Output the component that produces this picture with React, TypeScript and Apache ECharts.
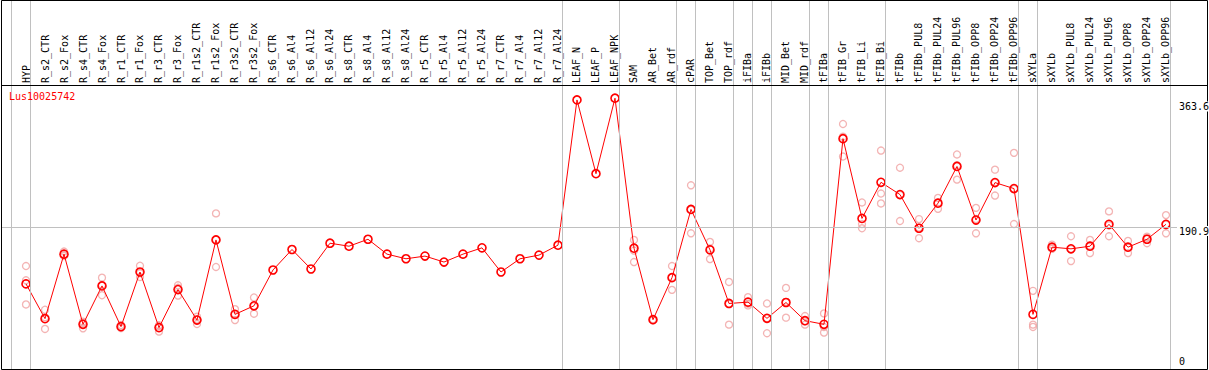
import React, { useEffect, useRef } from "react";
import * as echarts from "echarts";

const geneName = "Lus10025742";

const categories = [
  "HYP", "R_s2_CTR", "R_s2_Fox", "R_s4_CTR", "R_s4_Fox", "R_r1_CTR", "R_r1_Fox", "R_r3_CTR", "R_r3_Fox",
  "R_r1s2_CTR", "R_r1s2_Fox", "R_r3s2_CTR", "R_r3s2_Fox", "R_s6_CTR", "R_s6_Al4", "R_s6_Al12", "R_s6_Al24",
  "R_s8_CTR", "R_s8_Al4", "R_s8_Al12", "R_s8_Al24", "R_r5_CTR", "R_r5_Al4", "R_r5_Al12", "R_r5_Al24",
  "R_r7_CTR", "R_r7_Al4", "R_r7_Al12", "R_r7_Al24", "LEAF_N", "LEAF_P", "LEAF_NPK", "SAM", "AR_Bet", "AR_rdf",
  "cPAR", "TOP_Bet", "TOP_rdf", "iFIBa", "iFIBb", "MID_Bet", "MID_rdf", "tFIBa", "tFIB_Gr", "tFIB_Li", "tFIB_Bi",
  "tFIBb", "tFIBb_PUL8", "tFIBb_PUL24", "tFIBb_PUL96", "tFIBb_OPP8", "tFIBb_OPP24", "tFIBb_OPP96",
  "sXYLa", "sXYLb", "sXYLb_PUL8", "sXYLb_PUL24", "sXYLb_PUL96", "sXYLb_OPP8", "sXYLb_OPP24", "sXYLb_OPP96",
];

const means = [
  115.2, 68.7, 155.0, 61.1, 112.5, 58.0, 131.1, 56.7, 107.6, 66.8, 174.0, 74.4, 85.9,
  133.8, 161.2, 135.1, 169.6, 165.6, 174.9, 155.0, 148.8, 152.4, 144.4, 155.0, 163.4, 131.1, 148.8, 153.7, 167.0,
  361.3, 262.6, 363.6, 163.0, 67.3, 123.5, 214.8, 160.7, 89.0, 90.8, 69.1, 90.3, 66.0, 61.1,
  309.5, 202.8, 251.1, 234.7, 189.6, 223.2, 272.3, 200.6, 250.7, 242.7,
  74.4, 164.3, 162.1, 165.6, 194.9, 164.3, 174.9, 194.9,
];

const N = null;
const rep1 = [
  139.1, 80.6, 158.5, 64.7, 123.5, 60.2, 139.5, 51.4, 113.3, 71.3, 209.5, 81.4, 97.0,
  N, N, N, N, N, N, N, N, N, N, N, N, N, N, N, N, N, N, N,
  174.0, 67.0, 139.1, 247.1, 171.4, 117.8, 97.4, 89.0, 109.8, 72.2, 75.7,
  329.1, 224.1, 293.6, 270.6, 201.9, 230.2, 288.3, 216.9, 268.0, 290.5,
  105.9, 167.8, 178.9, 174.0, 212.2, 172.7, 178.4, 207.2,
];
const rep2 = [
  120.0, 54.9, 154.0, 55.8, 100.0, 58.0, 124.4, 58.9, 99.6, 61.5, 137.8, 66.8, 75.3,
  N, N, N, N, N, N, N, N, N, N, N, N, N, N, N, N, N, N, N,
  159.8, 68.0, 107.2, 182.9, 148.4, 60.7, 86.4, 49.2, 70.0, 60.7, 50.1,
  312.2, 195.3, 236.1, 199.3, 176.3, 215.6, 254.7, 182.9, 233.4, 195.3,
  60.7, 162.1, 145.7, 156.4, 178.9, 156.4, 169.6, 182.9,
];
const rep3 = [
  87.7, 70.6, 152.5, 62.8, 114.0, 56.0, 129.4, 59.8, 110.0, 67.6, 174.7, 75.0, 85.4,
  N, N, N, N, N, N, N, N, N, N, N, N, N, N, N, N, N, N, N,
  144.4, 66.5, 124.2, 214.4, 162.3, 88.5, 88.6, 69.1, 91.1, 65.1, 57.5,
  285.6, 189.6, 222.8, 234.2, 190.6, 223.8, 274.0, 202.0, 250.7, 242.3,
  57.6, 163.0, 161.7, 166.4, 193.6, 163.8, 176.7, 194.6,
];

// index of the last category of each group (separator drawn just after it)
const groupEnds = [-1, 0, 28, 31, 34, 35, 37, 38, 39, 41, 42, 45, 52, 53, 60];

const yTickLabels = ["363.6", "190.9", "0"];
const refLineValue = 190.9;

// layout / style constants
const W = 1209;
const H = 370;
const FONT = "'DejaVu Sans Mono', monospace";
const X_MIN = -1.3158;
const X_MAX = 62.158;
const Y_MAX = 381.27;
const SEP_OFFSET = 0.237;

export default function App() {
  const ref = useRef<HTMLDivElement>(null);

  useEffect(() => {
    if (!ref.current) return;
    const chart = echarts.init(ref.current, null, { renderer: "svg" });

    const repData: any[] = [];
    [rep1, rep2, rep3].forEach((arr) => {
      arr.forEach((v, i) => {
        if (v !== null) repData.push([i, v]);
      });
    });
    const meanData = means.map((v, i) => [i, v]);

    const option: any = {
      animation: false,
      backgroundColor: "#ffffff",
      grid: [
        { left: 1, right: 2, top: 0, bottom: 1, show: false },
        { left: 1, right: 2, top: 85, height: 287, show: false },
      ],
      xAxis: [
        { type: "value", gridIndex: 0, min: X_MIN, max: X_MAX, show: false },
        {
          type: "value",
          gridIndex: 1,
          min: X_MIN,
          max: X_MAX,
          position: "top",
          axisLine: { show: false },
          axisTick: { show: false },
          splitLine: { show: false },
          axisLabel: {
            customValues: categories.map((_, i) => i),
            formatter: (v: number) => categories[Math.round(v)] ?? "",
            rotate: 90,
            margin: 2,
            fontFamily: FONT,
            fontSize: 10,
            color: "#000",
            hideOverlap: false,
          },
        },
      ],
      yAxis: [
        { type: "value", gridIndex: 0, min: 0, max: 1, show: false },
        {
          type: "value",
          gridIndex: 1,
          min: 0,
          max: Y_MAX,
          show: false,
        },
      ],
      series: [
        {
          type: "line",
          xAxisIndex: 0,
          yAxisIndex: 0,
          data: [],
          silent: true,
          markLine: {
            silent: true,
            symbol: "none",
            label: { show: false },
            lineStyle: { color: "#c0c0c0", width: 1, type: "solid" },
            data: groupEnds.map((g) => ({ xAxis: g + SEP_OFFSET })),
          },
        },
        {
          type: "scatter",
          xAxisIndex: 1,
          yAxisIndex: 1,
          data: repData,
          symbol: "circle",
          symbolSize: 7,
          itemStyle: { color: "rgba(0,0,0,0)", borderColor: "#f0a0a0", borderWidth: 1.3 },
          silent: true,
        },
        {
          type: "line",
          xAxisIndex: 1,
          yAxisIndex: 1,
          data: meanData,
          symbol: "circle",
          symbolSize: 8,
          showAllSymbol: true,
          lineStyle: { color: "#ff0000", width: 1 },
          itemStyle: { color: "rgba(0,0,0,0)", borderColor: "#ff0000", borderWidth: 1.6 },
          silent: true,
          markLine: {
            silent: true,
            symbol: "none",
            label: { show: false },
            lineStyle: { color: "#c0c0c0", width: 1, type: "solid" },
            data: [{ yAxis: refLineValue }],
          },
        },
      ],
      graphic: [
        {
          type: "rect",
          z: 100,
          shape: { x: 1.5, y: 0.5, width: 1206, height: 369 },
          style: { fill: "none", stroke: "#000", lineWidth: 1 },
          silent: true,
        },
        {
          type: "line",
          z: 100,
          shape: { x1: 1.5, y1: 85.5, x2: 1207.5, y2: 85.5 },
          style: { stroke: "#000", lineWidth: 1 },
          silent: true,
        },
        {
          type: "text",
          z: 100,
          x: 9,
          y: 96,
          style: {
            text: geneName,
            fill: "#ff0000",
            font: `10px ${FONT}`,
            textAlign: "left",
            textVerticalAlign: "middle",
          },
        },
        {
          type: "text",
          z: 100,
          x: 1177,
          y: 101.5,
          style: { text: yTickLabels[0], fill: "#000", font: `10px ${FONT}`, textAlign: "left", textVerticalAlign: "top", backgroundColor: "#fff", padding: [0, 0, 0, 2] },
        },
        {
          type: "text",
          z: 100,
          x: 1177,
          y: 226,
          style: { text: yTickLabels[1], fill: "#000", font: `10px ${FONT}`, textAlign: "left", textVerticalAlign: "top", backgroundColor: "#fff", padding: [0, 0, 0, 2] },
        },
        {
          type: "text",
          z: 100,
          x: 1177,
          y: 356.5,
          style: { text: yTickLabels[2], fill: "#000", font: `10px ${FONT}`, textAlign: "left", textVerticalAlign: "top", padding: [0, 0, 0, 2] },
        },
      ],
    };

    chart.setOption(option);
    return () => chart.dispose();
  }, []);

  return (
    <div
      ref={ref}
      style={{ position: "absolute", left: 0, top: 0, width: W, height: H, background: "#fff" }}
    />
  );
}
